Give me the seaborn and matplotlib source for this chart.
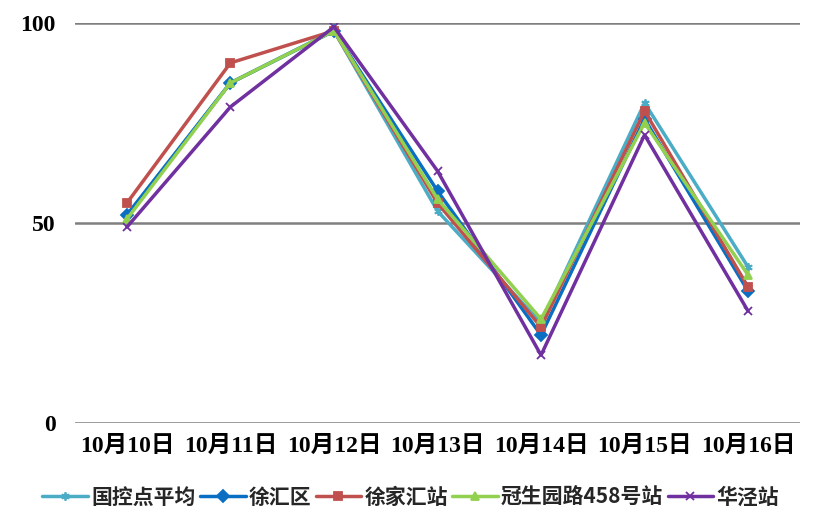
import pandas as pd
import numpy as np
import matplotlib.pyplot as plt
import seaborn as sns

dates = ["10月10日", "10月11日", "10月12日", "10月13日", "10月14日", "10月15日", "10月16日"]
series_names = ["国控点平均", "徐汇区", "徐家汇站", "冠生园路458号站", "华泾站"]
guokong = [52, 85, 98, 53, 25, 80, 39]
xuhui = [52, 85, 98, 58, 22, 76, 33]
xujiahui = [55, 90, 98, 55, 24, 78, 34]
guanshengyuan = [51, 85, 98, 56, 26, 75, 37]
huajing = [49, 79, 99, 63, 17, 72, 28]

colors = ["#4BACC6", "#0A6FC2", "#C0504D", "#92D050", "#7030A0"]
markers = [(6, 2, 0), "D", "s", "^", "x"]

df = pd.DataFrame({
    "date": dates * 5,
    "series": np.repeat(series_names, len(dates)),
    "value": guokong + xuhui + xujiahui + guanshengyuan + huajing,
})

sns.set_style("white")
plt.rcParams['font.family'] = ['Liberation Serif', 'Noto Sans CJK SC']

fig = plt.figure(figsize=(8.17, 5.31), dpi=100)
ax = fig.add_axes([0.092, 0.203, 0.887, 0.754])

# one call per series: filled and line-art markers can't share a style mapping
for name, c, m in zip(series_names, colors, markers):
    sub = df[df["series"] == name]
    sns.lineplot(data=sub, x="date", y="value", color=c, marker=m,
                 linewidth=3, markersize=7.5, markeredgewidth=1.3,
                 markeredgecolor=c, sort=False, label=name, ax=ax)

ax.set_xlim(-0.5, 6.5)
ax.set_ylim(0, 100)
ax.set_yticks([0, 50, 100])
ax.grid(axis="y", color="#7f7f7f", linewidth=1.8)
ax.grid(axis="x", visible=False)
for s in ax.spines.values():
    s.set_visible(False)
ax.set_xlabel("")
ax.set_ylabel("")
ax.tick_params(axis="both", length=0, labelsize=17, labelcolor="black")
ax.tick_params(axis="y", pad=14)
ax.tick_params(axis="x", pad=9)
for lab in ax.get_xticklabels() + ax.get_yticklabels():
    lab.set_fontweight("bold")

handles, labels = ax.get_legend_handles_labels()
for h in handles:
    h.set_linewidth(2.5)
    h.set_markersize(6)
ax.legend(handles, labels, loc="center", bbox_to_anchor=(0.463, -0.185),
          ncol=5, frameon=False, handlelength=2.2, handletextpad=0.15,
          columnspacing=0.2, prop={"family": ["Noto Sans CJK SC"], "weight": "bold", "size": 15})

fig.savefig("out.png", dpi=100)
